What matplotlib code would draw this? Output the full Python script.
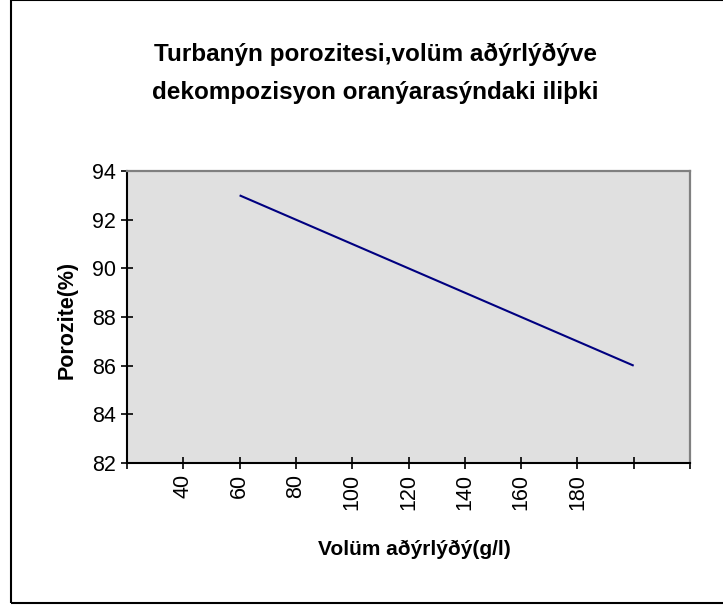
import matplotlib
matplotlib.use("Agg")
import matplotlib.pyplot as plt
from matplotlib.patches import Rectangle

plt.rcParams['font.family'] = ['Liberation Sans', 'DejaVu Sans']

# Data
tick_positions = [20, 40, 60, 80, 100, 120, 140, 160, 180, 200, 220]
tick_labels = ['', '40', '60', '80', '100', '120', '140', '160', '180', '', '']
volume = [60, 80, 100, 120, 140, 160, 180, 200]
porosity = [93, 92, 91, 90, 89, 88, 87, 86]
y_ticks = [82, 84, 86, 88, 90, 92, 94]

title_line1 = "Turbanýn porozitesi,volüm aðýrlýðýve"
title_line2 = "dekompozisyon oranýarasýndaki iliþki"
x_label = "Volüm aðýrlýðý(g/l)"
y_label = "Porozite(%)"

W, H = 723, 606
fig = plt.figure(figsize=(W / 100, H / 100), dpi=100)
fig.patch.set_facecolor('white')

# chart-area border
fig.patches.append(Rectangle((11 / W, 3 / H), (W + 20) / W, (H - 3) / H,
                             transform=fig.transFigure, fill=False,
                             ec='black', lw=1.5))

ax = fig.add_axes([127 / W, 1 - 463 / H, (690 - 127) / W, (463 - 171) / H])
ax.set_facecolor('#E0E0E0')

ax.plot(volume, porosity, color='#000080', lw=1.5, solid_capstyle='butt')

ax.set_xlim(20, 220)
ax.set_ylim(82, 94)
ax.set_xticks(tick_positions)
ax.set_xticklabels(tick_labels, rotation=90)
ax.set_yticks(y_ticks)
ax.set_yticklabels([str(v) for v in y_ticks])

for s in ['top', 'right']:
    ax.spines[s].set_color('#808080')
    ax.spines[s].set_linewidth(1.6)
for s in ['left', 'bottom']:
    ax.spines[s].set_color('black')
    ax.spines[s].set_linewidth(1.5)

ax.tick_params(axis='both', direction='inout', length=8, width=1.2,
               color='black', labelsize=15.5, pad=4)

fig.text(375 / W, 1 - 61 / H, title_line1, ha='center', va='baseline',
         fontsize=17.5, fontweight='bold')
fig.text(375 / W, 1 - 99 / H, title_line2, ha='center', va='baseline',
         fontsize=17.5, fontweight='bold')

fig.text(67 / W, 1 - 320 / H, y_label, rotation=90, ha='center', va='center',
         fontsize=15.5, fontweight='bold')
fig.text(414 / W, 1 - 549 / H, x_label, ha='center', va='center',
         fontsize=15, fontweight='bold')

fig.savefig('out.png', dpi=100)
